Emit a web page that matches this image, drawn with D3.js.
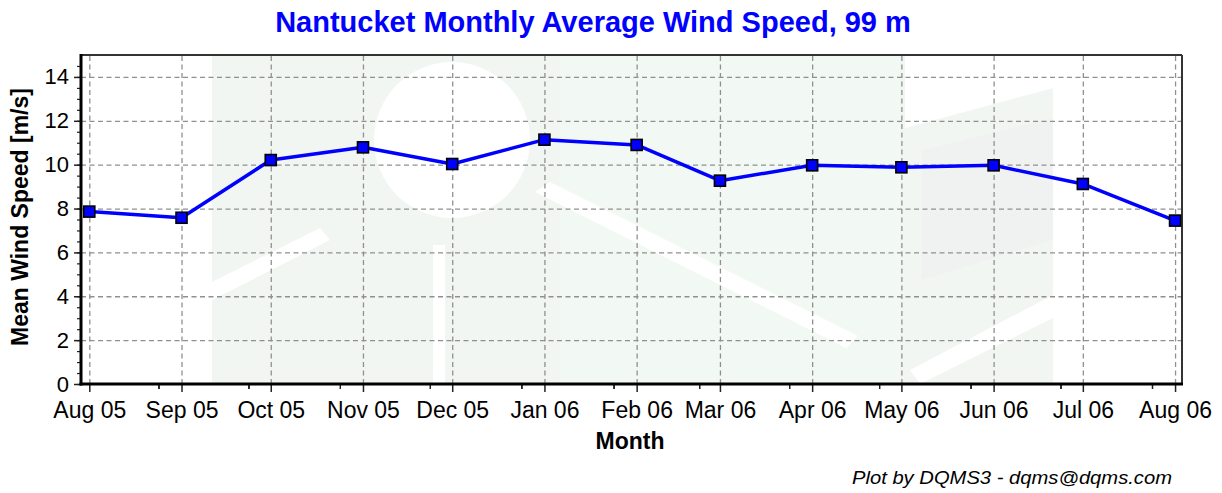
<!DOCTYPE html>
<html>
<head>
<meta charset="utf-8">
<script src="https://cdn.jsdelivr.net/npm/d3@7"></script>
<style>
  body { margin: 0; background: #fff; }
  svg text { font-family: "Liberation Sans", Arial, sans-serif; }
</style>
</head>
<body>
<div id="chart"></div>
<script>
// --- data ---
const monthLabels = ["Aug 05", "Sep 05", "Oct 05", "Nov 05", "Dec 05", "Jan 06", "Feb 06",
                     "Mar 06", "Apr 06", "May 06", "Jun 06", "Jul 06", "Aug 06"];
const windSpeed = [7.86, 7.58, 10.21, 10.79, 10.03, 11.14, 10.9, 9.27, 9.97, 9.88, 9.97, 9.12, 7.45];
const yTicks = [0, 2, 4, 6, 8, 10, 12, 14];
const yMinorTicks = d3.range(0, 15, 0.5);

const W = 1222, H = 493;
const plot = { left: 81, right: 1182, top: 55, bottom: 384 };

const parseMonth = d3.utcParse("%b %y");
const monthDates = monthLabels.map(parseMonth);
const points = monthDates.map((d, i) => ({ date: d, value: windSpeed[i], label: monthLabels[i] }));

const x = d3.scaleUtc()
    .domain([new Date(Date.UTC(2005, 6, 29, 5)), new Date(Date.UTC(2006, 7, 3, 8))])
    .range([plot.left, plot.right]);
const y = d3.scaleLinear().domain([0, 15]).range([plot.bottom, plot.top]);

// 4 subdivisions per month for the minor ticks
const xMinor = [];
monthDates.slice(0, -1).forEach((d, i) => {
    const interp = d3.interpolateDate(d, monthDates[i + 1]);
    [0.25, 0.5, 0.75].forEach(t => xMinor.push(interp(t)));
});

const svg = d3.select("#chart").append("svg").attr("width", W).attr("height", H);

// --- faint logo watermark behind the plot ---
const wm = svg.append("g");
wm.append("rect").attr("x", 212).attr("y", plot.top).attr("width", 841).attr("height", plot.bottom - plot.top)
    .attr("fill", "#f1f6f2");
wm.append("rect").attr("x", 560).attr("y", plot.top).attr("width", 340).attr("height", plot.bottom - plot.top)
    .attr("fill", "#f2f8f3");
wm.append("circle").attr("cx", 452).attr("cy", 140).attr("r", 78).attr("fill", "#fff");
wm.append("rect").attr("x", 433).attr("y", 245).attr("width", 12).attr("height", plot.bottom - 245).attr("fill", "#fff");
wm.append("polygon").attr("points", "535,192 550,182 858,336 846,348").attr("fill", "#fff");
wm.append("polygon").attr("points", "212,300 212,282 320,228 330,240").attr("fill", "#fff");
wm.append("polygon").attr("points", "920,384 910,370 1053,295 1053,318").attr("fill", "#fff");
wm.append("polygon").attr("points", "905,55 1053,55 1053,88 905,128").attr("fill", "#fff");
wm.append("polygon").attr("points", "922,150 1053,118 1053,240 922,280").attr("fill", "#f0f2f1");

// --- grid ---
const gridStyle = g => g.call(s => s.select(".domain").remove())
    .selectAll(".tick line").attr("stroke", "#909090").attr("stroke-width", 1.3).attr("stroke-dasharray", "5,3.5");

svg.append("g").attr("transform", `translate(0,${plot.bottom})`)
    .call(d3.axisBottom(x).tickValues(monthDates).tickSize(-(plot.bottom - plot.top)).tickFormat(""))
    .call(gridStyle);
svg.append("g").attr("transform", `translate(${plot.left},0)`)
    .call(d3.axisLeft(y).tickValues(yTicks.filter(v => v > 0)).tickSize(-(plot.right - plot.left)).tickFormat(""))
    .call(gridStyle);

// --- frame ---
svg.append("line").attr("x1", plot.left).attr("x2", plot.right).attr("y1", plot.top).attr("y2", plot.top)
    .attr("stroke", "#333").attr("stroke-width", 2);
svg.append("line").attr("x1", plot.right).attr("x2", plot.right).attr("y1", plot.top).attr("y2", plot.bottom)
    .attr("stroke", "#333").attr("stroke-width", 2);

// --- axes ---
const axisText = g => g.selectAll("text").attr("fill", "#000")
    .style("font-family", "'Liberation Sans', Arial, sans-serif");

const yAxis = svg.append("g").attr("transform", `translate(${plot.left},0)`)
    .call(d3.axisLeft(y).tickValues(yTicks).tickSize(7).tickPadding(5).tickFormat(d3.format("d")));
yAxis.select(".domain").remove();
yAxis.selectAll(".tick line").attr("stroke", "#222").attr("stroke-width", 1.5);
yAxis.call(axisText).selectAll("text").style("font-size", "22px");

const yMinor = svg.append("g").attr("transform", `translate(${plot.left},0)`)
    .call(d3.axisLeft(y).tickValues(yMinorTicks).tickSize(4).tickFormat(""));
yMinor.select(".domain").remove();
yMinor.selectAll(".tick line").attr("stroke", "#222").attr("stroke-width", 1.2);

const xAxis = svg.append("g").attr("transform", `translate(0,${plot.bottom})`)
    .call(d3.axisBottom(x).tickValues(monthDates).tickSize(8).tickPadding(10).tickFormat(d3.utcFormat("%b %y")));
xAxis.select(".domain").remove();
xAxis.selectAll(".tick line").attr("stroke", "#222").attr("stroke-width", 1.5);
xAxis.call(axisText).selectAll("text").style("font-size", "23px");

const xMinorAxis = svg.append("g").attr("transform", `translate(0,${plot.bottom})`)
    .call(d3.axisBottom(x).tickValues(xMinor).tickSize(5).tickFormat(""));
xMinorAxis.select(".domain").remove();
xMinorAxis.selectAll(".tick line").attr("stroke", "#222").attr("stroke-width", 1.2);

svg.append("line").attr("x1", plot.left).attr("x2", plot.left).attr("y1", plot.top - 1).attr("y2", plot.bottom + 1.5)
    .attr("stroke", "#000").attr("stroke-width", 3);
svg.append("line").attr("x1", plot.left - 1.5).attr("x2", plot.right + 1).attr("y1", plot.bottom).attr("y2", plot.bottom)
    .attr("stroke", "#000").attr("stroke-width", 3);

// --- series ---
const line = d3.line().x(d => x(d.date)).y(d => y(d.value));
svg.append("path").datum(points).attr("d", line)
    .attr("fill", "none").attr("stroke", "#0000ff").attr("stroke-width", 3.5).attr("stroke-linejoin", "round");

const ms = 11;
svg.selectAll("rect.marker").data(points).join("rect").attr("class", "marker")
    .attr("x", d => x(d.date) - ms / 2).attr("y", d => y(d.value) - ms / 2)
    .attr("width", ms).attr("height", ms)
    .attr("fill", "#0000ff").attr("stroke", "#000").attr("stroke-width", 1.6);

// --- titles ---
svg.append("text").attr("x", 593).attr("y", 32).attr("text-anchor", "middle")
    .style("font-size", "29px").style("font-weight", "bold").attr("fill", "#0000ff")
    .text("Nantucket Monthly Average Wind Speed, 99 m");

svg.append("text").attr("x", 630).attr("y", 449).attr("text-anchor", "middle")
    .style("font-size", "23px").style("font-weight", "bold").attr("fill", "#000")
    .text("Month");

svg.append("text").attr("transform", "translate(28,217) rotate(-90)").attr("text-anchor", "middle")
    .style("font-size", "23px").style("font-weight", "bold").attr("fill", "#000")
    .text("Mean Wind Speed [m/s]");

svg.append("text").attr("x", 1172).attr("y", 484).attr("text-anchor", "end")
    .style("font-size", "18px").style("font-style", "italic").attr("fill", "#000")
    .attr("textLength", 320).attr("lengthAdjust", "spacingAndGlyphs")
    .text("Plot by DQMS3 - dqms@dqms.com");
</script>
</body>
</html>
